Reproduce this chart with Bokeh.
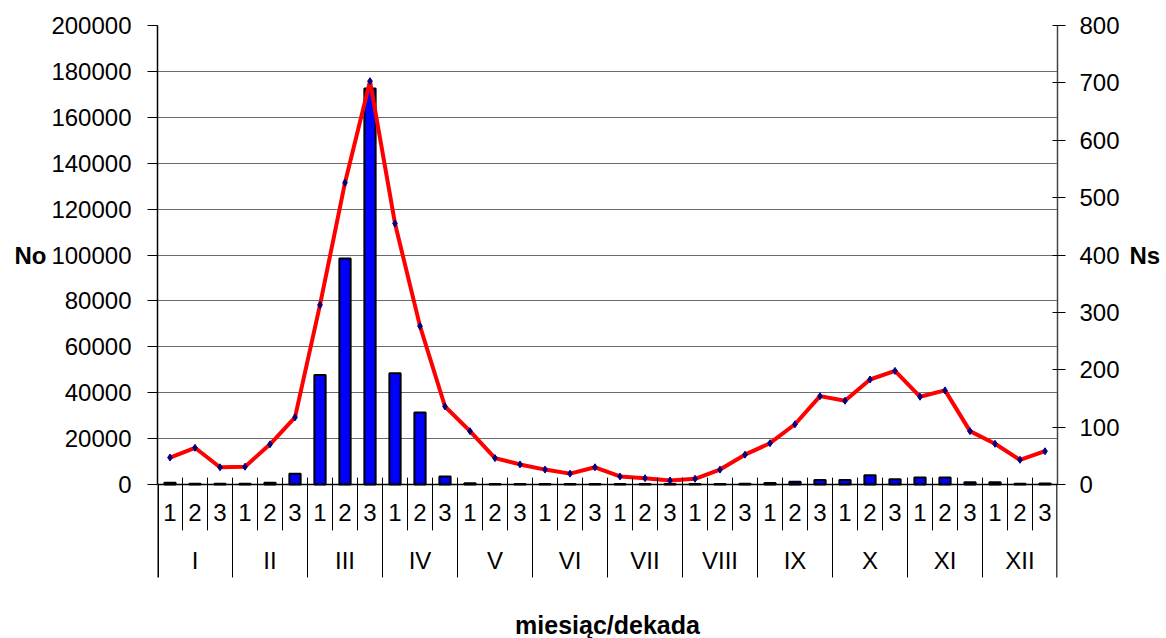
from bokeh.plotting import figure
from bokeh.models import FactorRange, Range1d, LinearAxis, FixedTicker, Span, BasicTickFormatter, ColumnDataSource
from bokeh.core.properties import value
from bokeh.embed import file_html
from bokeh.resources import INLINE

months = ["I", "II", "III", "IV", "V", "VI", "VII", "VIII", "IX", "X", "XI", "XII"]
decades = ["1", "2", "3"]

# No (bars, left axis)
No = [800, 300, 300, 300, 800, 4700,
      47700, 98500, 172500, 48500, 31400, 3500,
      600, 200, 200, 200, 200, 200,
      200, 200, 200, 200, 200, 300,
      700, 1200, 2000, 2000, 4000, 2300,
      3000, 3000, 1000, 1000, 300, 400]

# Ns (line, right axis)
Ns = [47, 64, 30, 31, 70, 117,
      313, 526, 703, 455, 276, 136,
      93, 46, 35, 26, 19, 30,
      14, 11, 7, 10, 26, 52,
      72, 105, 154, 146, 183, 198,
      153, 164, 93, 71, 43, 58]

left_ticks = list(range(0, 200001, 20000))
right_ticks = list(range(0, 801, 100))
x_title = "miesiąc/dekada"
left_label = "No"
right_label = "Ns"

FONT = "Liberation Sans"

factors = [(m, d) for m in months for d in decades]

RATIO = 250.0
Y_FRAME_BOTTOM = -67100     # frame reaches page bottom
Y_SEP_MONTH = -40500
Y_SEP_DEC = -20000

p = figure(
    x_range=FactorRange(*factors, factor_padding=0, group_padding=0,
                        subgroup_padding=0, range_padding=0),
    y_range=Range1d(Y_FRAME_BOTTOM, 200000),
    width=1164, height=638,
    output_backend="svg", toolbar_location=None,
    x_axis_location=None,
    min_border_left=157, min_border_right=107,
    min_border_top=25, min_border_bottom=0,
)
p.outline_line_color = None
p.background_fill_color = "white"
p.border_fill_color = "white"
p.xgrid.visible = False
p.ygrid.ticker = FixedTicker(ticks=left_ticks)
p.ygrid.grid_line_color = "#6a6a6a"
p.ygrid.grid_line_width = 1

p.extra_y_ranges = {"ns": Range1d(Y_FRAME_BOTTOM / RATIO, 800)}


def style_ticks(ax):
    ax.major_label_text_font = FONT
    ax.major_label_text_font_size = "24px"
    ax.major_label_text_color = "black"
    ax.minor_tick_line_color = None


# left axis
ya = p.yaxis[0]
ya.ticker = FixedTicker(ticks=left_ticks)
ya.bounds = (0, 200000)
ya.formatter = BasicTickFormatter(use_scientific=False)
style_ticks(ya)
ya.major_label_standoff = 16
ya.major_tick_out = 10
ya.major_tick_in = 0
ya.axis_line_color = "black"
ya.axis_line_width = 1.5
ya.major_tick_line_color = "black"

# left axis title ("No") beside the middle tick
mid_left = left_ticks[len(left_ticks) // 2]
ya2 = LinearAxis(ticker=FixedTicker(ticks=[mid_left]),
                 major_label_overrides={mid_left: left_label})
style_ticks(ya2)
ya2.major_label_text_font_style = "bold"
ya2.axis_line_color = None
ya2.major_tick_line_color = None
ya2.major_tick_out = 0
ya2.major_tick_in = 0
ya2.major_label_standoff = 2
p.add_layout(ya2, "left")

# right axis
ra = LinearAxis(y_range_name="ns", ticker=FixedTicker(ticks=right_ticks))
ra.bounds = (0, 800)
style_ticks(ra)
ra.major_label_standoff = 14
ra.major_tick_out = 8
ra.major_tick_in = 5
ra.axis_line_color = "#444444"
ra.axis_line_width = 1.5
ra.major_tick_line_color = "black"
p.add_layout(ra, "right")

mid_right = right_ticks[len(right_ticks) // 2]
ra2 = LinearAxis(y_range_name="ns", ticker=FixedTicker(ticks=[mid_right]),
                 major_label_overrides={mid_right: right_label})
style_ticks(ra2)
ra2.major_label_text_font_style = "bold"
ra2.axis_line_color = None
ra2.major_tick_line_color = None
ra2.major_tick_out = 0
ra2.major_tick_in = 0
ra2.major_label_standoff = 7
p.add_layout(ra2, "right")

src = ColumnDataSource(data=dict(x=factors, No=No, Ns=Ns))

p.vbar(x="x", top="No", width=0.45, source=src,
       fill_color="#0000FF", line_color="black", line_width=2)

p.line(x="x", y="Ns", source=src, y_range_name="ns",
       line_color="#FF0000", line_width=4)
p.scatter(x="x", y="Ns", source=src, y_range_name="ns",
          marker="diamond", size=7, fill_color="#000080", line_color="#000080")

# baseline
p.add_layout(Span(location=0, dimension="width", line_color="black", line_width=1.5))

# category separators
dec_x = [(m, d, -0.5) for m in months for d in decades[1:]]
p.segment(x0=dec_x, x1=dec_x, y0=[3000] * len(dec_x), y1=[Y_SEP_DEC] * len(dec_x),
          line_color="black", line_width=1)
mon_x = [(m, "1", -0.5) for m in months[1:]]
p.segment(x0=mon_x, x1=mon_x, y0=[3000] * len(mon_x), y1=[Y_SEP_MONTH] * len(mon_x),
          line_color="black", line_width=1)
edge_x = [(months[0], "1", -0.5), (months[-1], "3", 0.5)]
p.segment(x0=edge_x, x1=edge_x, y0=[0, 0], y1=[Y_SEP_MONTH] * 2,
          line_color=["black", "#444444"], line_width=3)

# category labels
p.text(x=factors, y=[-12200] * len(factors), text=[d for (m, d) in factors],
       text_font=value(FONT), text_font_size="24px", text_color="black",
       text_align="center", text_baseline="middle")
mid = [(m, "2") for m in months]
p.text(x=mid, y=[-33100] * len(mid), text=months,
       text_font=value(FONT), text_font_size="24px", text_color="black",
       text_align="center", text_baseline="middle")

# x-axis title
p.text(x=[("VI", "3", 0.5)], y=[-61400], text=[x_title],
       text_font=value(FONT), text_font_size="25px", text_font_style="bold",
       text_color="black", text_align="center", text_baseline="middle")

open("out.html", "w").write(file_html(p, INLINE))
